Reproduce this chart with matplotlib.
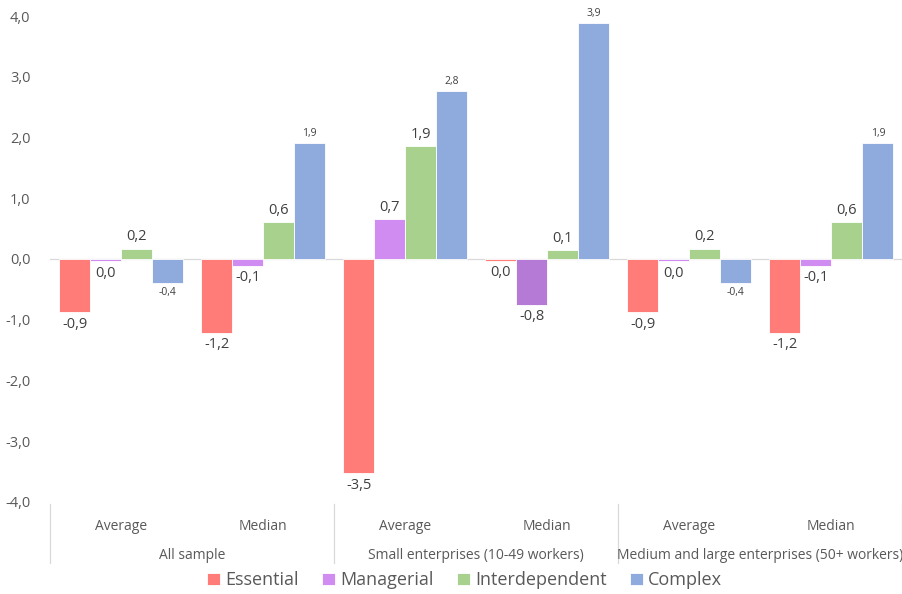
import matplotlib
matplotlib.use("Agg")
import matplotlib.pyplot as plt
import matplotlib.transforms as mtransforms
import numpy as np

plt.rcParams['font.family'] = ['Open Sans', 'DejaVu Sans']

# data
groups = ["All sample", "Small enterprises (10-49 workers)", "Medium and large enterprises (50+ workers)"]
stats = ["Average", "Median"]
series = ["Essential", "Managerial", "Interdependent", "Complex"]
essential = [-0.88, -1.22, -3.53, -0.03, -0.88, -1.22]
managerial = [-0.04, -0.11, 0.66, -0.76, -0.04, -0.11]
interdependent = [0.17, 0.61, 1.86, 0.14, 0.17, 0.61]
complex_ = [-0.40, 1.91, 2.76, 3.88, -0.40, 1.91]

colors = ["#ff7c78", "#d08cf0", "#a9d18e", "#8faadc"]
managerial_highlight = "#b57ad6"   # the small-enterprise median bar is darker

fig = plt.figure(figsize=(9.02, 5.94), dpi=100)
ax = fig.add_axes([0.0554, 0.155, 0.945, 0.818])

x = np.arange(len(essential))
w = 0.218
txt_col = "#404040"
handles = []
for k, (name, vals) in enumerate(zip(series, [essential, managerial, interdependent, complex_])):
    cols = [colors[k]] * len(vals)
    if name == "Managerial":
        cols[3] = managerial_highlight
    xs = x + (k - 1.5) * w
    bars = ax.bar(xs, vals, w, color=cols, edgecolor="white", linewidth=0.6, label=name, zorder=2)
    handles.append(bars)
    fs = 7.5 if name == "Complex" else 10.5
    for xi, v in zip(xs, vals):
        lab = f"{v:.1f}".replace(".", ",")
        if lab == "-0,0":
            lab = "0,0"
        off = 3 if v >= 0 else -3
        ax.annotate(lab, (xi, v), xytext=(0, off), textcoords="offset points",
                    ha="center", va="bottom" if v >= 0 else "top",
                    fontsize=fs, color=txt_col)

ax.set_xlim(-0.5, len(x) - 0.5)
ax.set_ylim(-4, 4)
ax.set_yticks(np.arange(-4, 4.01, 1))
ax.set_yticklabels([f"{t:.1f}".replace(".", ",") for t in np.arange(-4, 4.01, 1)],
                   fontsize=10.5, color="#595959")
ax.tick_params(axis="y", length=0, pad=14)
ax.set_xticks([])
for s in ax.spines.values():
    s.set_visible(False)
ax.axhline(0, color="#d9d9d9", linewidth=0.9, zorder=1)

# two-level category axis
trans = mtransforms.blended_transform_factory(ax.transData, ax.transAxes)
for i in range(len(x)):
    ax.text(i, -0.05, stats[i % 2], transform=trans, ha="center", va="center",
            fontsize=10, color="#595959")
for g, name in enumerate(groups):
    ax.text(2 * g + 0.5, -0.11, name, transform=trans, ha="center", va="center",
            fontsize=10, color="#595959")
for b in np.arange(-0.5, len(x), 2):
    ax.plot([b, b], [-0.005, -0.125], transform=trans, color="#d9d9d9",
            linewidth=0.9, clip_on=False)

fig.legend(handles=handles, labels=series, loc="center", bbox_to_anchor=(0.515, 0.023),
           ncol=4, frameon=False, fontsize=13, handlelength=0.7, handleheight=0.7,
           handletextpad=0.3, columnspacing=1.3, labelcolor="#595959")

fig.savefig("out.png", dpi=100)
